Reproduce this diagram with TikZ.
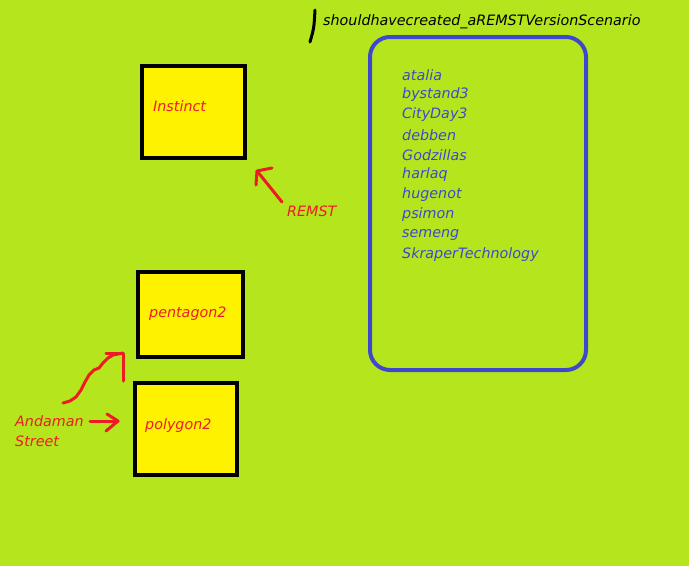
\documentclass[tikz,border=0pt]{standalone}
\usepackage{fontspec}
\setmainfont{DejaVu Sans}
\definecolor{bg}{HTML}{B5E61D}
\definecolor{yel}{HTML}{FFF200}
\definecolor{rd}{HTML}{ED1C24}
\definecolor{bl}{HTML}{3F48CC}
\begin{document}
\begin{tikzpicture}[x=1pt,y=-1pt,
  box/.style={draw=black,line width=4pt,fill=yel},
  lbl/.style={anchor=west,inner sep=0pt,font=\fontsize{14.3}{16}\selectfont\itshape},
  redlbl/.style={lbl,text=rd},
  bluelbl/.style={lbl,text=bl},
  redpen/.style={draw=rd,line width=3pt,line cap=round,line join=round}]
\fill[bg] (0,0) rectangle (689,566);
\useasboundingbox (0,0) rectangle (689,566);
% boxes
\draw[box] (142,66) rectangle (245,158);
\draw[box] (138,272) rectangle (243,357);
\draw[box] (135,383) rectangle (237,475);
\node[redlbl] (instinct) at (153,106) {Instinct};
\node[redlbl] (pentagon) at (149,314) {pentagon2};
\node[redlbl] (polygon) at (145,426) {polygon2};
% blue box
\draw[draw=bl,line width=4pt,rounded corners=20pt] (370,37) rectangle (586,370);
\node[bluelbl] (l1) at (402,75) {atalia};
\node[bluelbl] (l2) at (402,95) {bystand3};
\node[bluelbl] (l3) at (402,115) {CityDay3};
\node[bluelbl] (l4) at (402,135) {debben};
\node[bluelbl] (l5) at (402,155) {Godzillas};
\node[bluelbl] (l6) at (402,175) {harlaq};
\node[bluelbl] (l7) at (402,195) {hugenot};
\node[bluelbl] (l8) at (402,215) {psimon};
\node[bluelbl] (l9) at (402,235) {semeng};
\node[bluelbl] (l10) at (402,255) {SkraperTechnology};
% title
\node[lbl,text=black] (title) at (323,22) {shouldhavecreated\_aREMSTVersionScenario};
\draw[line width=3pt,line cap=round] (315,10) .. controls (314,28) .. (310,42);
% REMST
\node[redlbl] (remst) at (287,211) {REMST};
\coordinate (rt) at (282,202);
\coordinate (rh) at (257,171);
\draw[redpen] (rt) -- (rh);
\draw[redpen] (256,185) -- (rh) -- (272,168);
% Andaman
\node[redlbl] (and1) at (15,421) {Andaman};
\node[redlbl] (and2) at (15,441) {Street};
\coordinate (at1) at (63,403);
\coordinate (ah1) at (123,353);
\draw[redpen] (at1) -- (70,401) -- (76,397) -- (81,390) -- (85,382) -- (89,375) -- (94,370) -- (99,368) -- (103,363) -- (108,358) -- (113,355) -- (ah1);
\draw[redpen] (106,353) -- (ah1) -- (123,381);
\coordinate (at2) at (90,421);
\coordinate (ah2) at (118,421);
\draw[redpen] (at2) -- (ah2);
\draw[redpen] (107,414) -- (ah2) -- (106,431);
\end{tikzpicture}
\end{document}
